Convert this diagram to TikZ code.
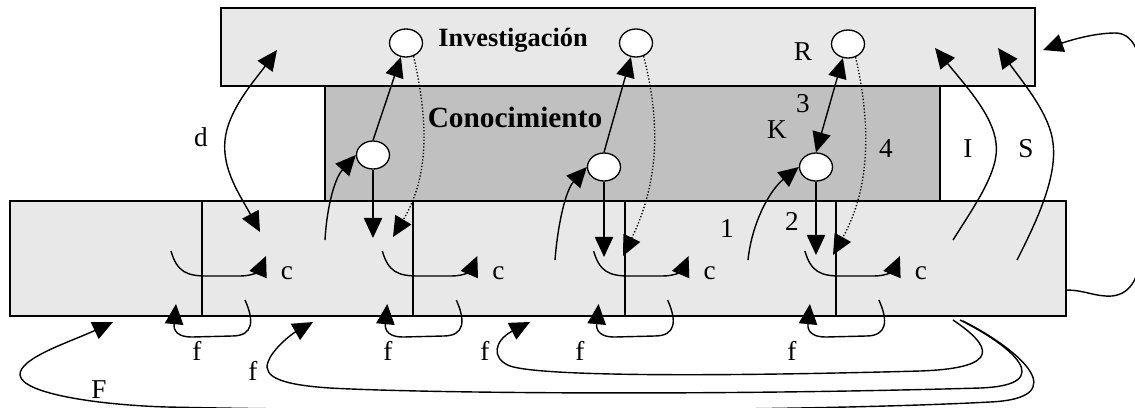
\documentclass[tikz,border=0pt]{standalone}
\usepackage{fontspec}
\setmainfont{Liberation Serif}
\usetikzlibrary{arrows.meta,shapes.geometric}
\definecolor{lightbox}{RGB}{232,232,232}
\definecolor{darkbox}{RGB}{192,192,192}
\tikzset{
  box/.style={draw,line width=0.7pt,inner sep=0pt,outer sep=0pt},
  knot/.style={ellipse,draw,fill=white,line width=0.75pt,minimum width=0.66cm,minimum height=0.56cm,inner sep=0pt},
  arr/.style={->,line width=0.8pt},
  dotarr/.style={->,line width=0.75pt,dash pattern=on 0.75pt off 1.1pt},
  lab/.style={font=\fontsize{15.5}{18}\selectfont,inner sep=0pt,anchor=base},
}
\begin{document}
\begin{tikzpicture}[x=0.02cm,y=-0.02cm,>={Triangle[length=11.5pt,width=10.5pt]}]
\useasboundingbox (0,0) rectangle (1135,407);
% the three layers
\node[box,fill=lightbox,minimum width=16.28cm,minimum height=1.56cm] (inv) at (628,47) {};
\node[box,fill=darkbox,minimum width=12.3cm,minimum height=2.3cm] (con) at (632.5,143.5) {};
\node[box,fill=lightbox,minimum width=21.12cm,minimum height=2.3cm] (org) at (538,258.5) {};
\node[lab,font=\bfseries\fontsize{15}{18}\selectfont] (tinv) at (513,46) {Investigación};
\node[lab,font=\bfseries\fontsize{16.7}{20}\selectfont] (tcon) at (515,127) {Conocimiento};
% cells of the bottom layer
\foreach \i in {0,...,3}{
  \pgfmathsetmacro\xo{202+211.3*\i}
  \draw[line width=1.1pt] (\xo,201) -- (\xo,316);
  \draw[arr] (\xo-31,251) .. controls (\xo-25,272) and (\xo-15,276) .. (\xo+5,276) -- (\xo+38,276) .. controls (\xo+52,276) and (\xo+58,270) .. (\xo+64,256);
  \draw[arr] (\xo+43,300) .. controls (\xo+52,320) and (\xo+52,336) .. (\xo+30,336) -- (\xo-10,337) .. controls (\xo-30,337) and (\xo-28,325) .. (\xo-26,304);
  \node[lab] (c\i) at (\xo+85,279) {c};
}
% circles
\node[knot] (r1) at (406,43) {};
\node[knot] (r2) at (636,43) {};
\node[knot] (r3) at (848,44) {};
\node[knot] (k1) at (373,155) {};
\node[knot] (k2) at (604,167) {};
\node[knot] (k3) at (816,167) {};
% d
\coordinate (d0) at (260,232);
\coordinate (d1) at (277,50);
\draw[arr,<->] (d0) .. controls (240,195) and (222,170) .. (225,140) .. controls (228,110) and (255,80) .. (d1);
% into and out of the circles
\coordinate (u1) at (325,240);
\coordinate (u2) at (555,260);
\coordinate (u3) at (748,260);
\draw[arr] (u1) .. controls (327,205) and (335,178) .. (k1.west);
\draw[arr] (u2) .. controls (558,222) and (566,190) .. (k2.west);
\draw[arr] (u3) .. controls (752,222) and (770,190) .. (k3.west);
\coordinate (v1) at (373,238);
\coordinate (v2) at (604,257);
\coordinate (v3) at (816,255);
\draw[arr] (k1.south) -- (v1);
\draw[arr] (k2.south) -- (v2);
\draw[arr] (k3.south) -- (v3);
\draw[arr] (k1.north) -- (r1.250);
\draw[arr] (k2.north) -- (r2.250);
\draw[arr,<->] (k3.north) -- (r3.250);
\coordinate (w1) at (393,237);
\coordinate (w2) at (623,256);
\coordinate (w3) at (833,255);
\draw[dotarr] (r1.300) .. controls (428,120) and (430,175) .. (w1);
\draw[dotarr] (r2.300) .. controls (660,120) and (660,180) .. (w2);
\draw[dotarr] (r3.300) .. controls (870,120) and (872,185) .. (w3);
% I, S and the loop on the right
\coordinate (i0) at (953,240);
\coordinate (i1) at (935,48);
\coordinate (s0) at (1017,260);
\coordinate (s1) at (998,48);
\draw[arr] (i0) .. controls (975,205) and (1000,170) .. (996,143) .. controls (993,115) and (965,85) .. (i1);
\draw[arr] (s0) .. controls (1040,215) and (1057,175) .. (1053,143) .. controls (1050,115) and (1025,85) .. (s1);
\coordinate (q0) at (1066,290);
\coordinate (q1) at (1043,50);
\draw[arr] (q0) .. controls (1085,290) and (1095,297) .. (1112,296) .. controls (1132,294) and (1140,275) .. (1141,250) -- (1141,75) .. controls (1140,50) and (1132,33) .. (1115,33) .. controls (1092,33) and (1065,42) .. (q1);
% the long returns under the bottom layer
\coordinate (b1) at (953,320);
\coordinate (b2) at (960,320);
\coordinate (b3) at (963,321);
\coordinate (e1) at (530,322);
\coordinate (e2) at (313,322);
\coordinate (e3) at (113,322);
\draw[arr] (b1) .. controls (990,345) and (1005,368) .. (920,371) .. controls (700,377) and (540,376) .. (510,366) .. controls (490,358) and (495,340) .. (e1);
\draw[arr] (b2) .. controls (1010,345) and (1060,385) .. (980,388) .. controls (700,396) and (420,393) .. (330,388) .. controls (285,385) and (262,378) .. (268,362) .. controls (272,350) and (290,335) .. (e2);
\draw[arr] (b3) .. controls (1020,350) and (1075,398) .. (990,402) .. controls (800,412) and (400,412) .. (167,407) .. controls (100,405) and (22,394) .. (20,375) .. controls (19,358) and (70,342) .. (e3);
% labels
\node[lab] (ld) at (201,146) {d};
\node[lab] (lR) at (803,60) {R};
\node[lab] (l3) at (803,112) {3};
\node[lab] (lK) at (777,138) {K};
\node[lab] (l4) at (886,157) {4};
\node[lab] (lI) at (968,157) {I};
\node[lab] (lS) at (1026,157) {S};
\node[lab] (l1) at (727,237) {1};
\node[lab] (l2) at (792,230) {2};
\node[lab] (f1) at (197,360) {f};
\node[lab] (f2) at (253,380) {f};
\node[lab] (f3) at (388,360) {f};
\node[lab] (f4) at (485,360) {f};
\node[lab] (f5) at (580,360) {f};
\node[lab] (f6) at (792,360) {f};
\node[lab] (lF) at (99,398) {F};
\end{tikzpicture}
\end{document}
